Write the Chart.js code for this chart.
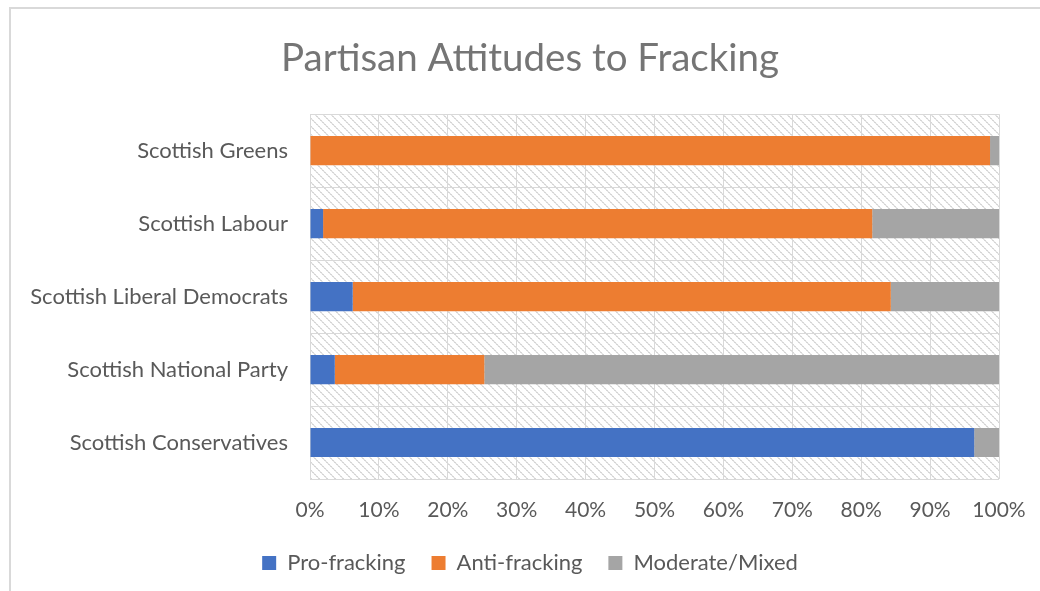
<!DOCTYPE html>
<html>
<head>
<meta charset="utf-8">
<script src="https://cdn.jsdelivr.net/npm/chart.js@4.4.0/dist/chart.umd.min.js"></script>
<style>
  html, body { margin: 0; padding: 0; background: #fff; }
  #wrap { position: relative; width: 1040px; height: 591px; }
</style>
</head>
<body>
<div id="wrap"><canvas id="chart" width="1040" height="591"></canvas></div>
<script>
// Data (shares in %)
const categories = ['Scottish Greens', 'Scottish Labour', 'Scottish Liberal Democrats', 'Scottish National Party', 'Scottish Conservatives']
const proFracking = [0, 1.9, 6.2, 3.6, 96.4]
const antiFracking = [98.7, 79.7, 78.1, 21.7, 0]
const moderateMixed = [1.3, 18.4, 15.7, 74.7, 3.6]
const xTicks = [0, 10, 20, 30, 40, 50, 60, 70, 80, 90, 100]

const textColor = '#595959'
const gridColor = '#d9d9d9'
const fontFamily = 'Lato, "Open Sans", sans-serif'

// diagonal hatch for the plot background (Excel "wide downward diagonal")
function makeHatch() {
  const c = document.createElement('canvas')
  c.width = 8
  c.height = 8
  const g = c.getContext('2d')
  g.fillStyle = '#ffffff'
  g.fillRect(0, 0, 8, 8)
  for(let i = 0; i < 8; i++) {
    g.fillStyle = i % 2 === 0 ? '#d6d6d6' : '#e6e6e6'
    g.fillRect(i, i, 1, 1)
    g.fillRect((i + 1) % 8, i, 1, 1)
  }
  return c
}

const hatchPlugin = {
  id: 'hatchBg',
  beforeDraw(chart) {
    const { ctx, chartArea } = chart
    ctx.save()
    ctx.fillStyle = ctx.createPattern(makeHatch(), 'repeat')
    ctx.fillRect(chartArea.left, chartArea.top, chartArea.right - chartArea.left, chartArea.bottom - chartArea.top)
    ctx.restore()
  }
}

const framePlugin = {
  id: 'frame',
  afterDraw(chart) {
    const ctx = chart.ctx
    ctx.save()
    ctx.strokeStyle = gridColor
    ctx.lineWidth = 2
    ctx.beginPath()
    ctx.moveTo(10, 591)
    ctx.lineTo(10, 8)
    ctx.lineTo(1040, 8)
    ctx.stroke()
    ctx.restore()
  }
}

const ctx = document.getElementById('chart').getContext('2d')
new Chart(ctx, {
  type: 'bar',
  data: {
    labels: categories,
    datasets: [
      { label: 'Pro-fracking', data: proFracking, backgroundColor: '#4472C4' },
      { label: 'Anti-fracking', data: antiFracking, backgroundColor: '#ED7D31' },
      { label: 'Moderate/Mixed', data: moderateMixed, backgroundColor: '#A5A5A5' }
    ]
  },
  options: {
    indexAxis: 'y',
    responsive: false,
    animation: false,
    categoryPercentage: 1,
    barPercentage: 0.4,
    layout: { padding: { left: 20, right: 0, top: 0, bottom: 7 } },
    plugins: {
      title: {
        display: true,
        text: 'Partisan Attitudes to Fracking',
        color: '#757575',
        font: { family: fontFamily, size: 38.5, weight: 'normal' },
        padding: { top: 35, bottom: 33 }
      },
      legend: {
        position: 'bottom',
        labels: {
          color: textColor,
          font: { family: fontFamily, size: 22 },
          boxWidth: 14,
          boxHeight: 14,
          padding: 26
        }
      },
      tooltip: { enabled: false }
    },
    scales: {
      x: {
        stacked: true,
        min: 0,
        max: 100,
        afterBuildTicks(axis) {
          axis.ticks = xTicks.map(v => ({ value: v }))
        },
        afterFit(axis) {
          axis.height = 47
          axis.paddingLeft = 0
          axis.paddingRight = 0
        },
        ticks: {
          color: textColor,
          font: { family: fontFamily, size: 21 },
          padding: 19,
          callback: v => v + '%'
        },
        grid: { color: gridColor, lineWidth: 1, drawTicks: false },
        border: { display: false }
      },
      y: {
        stacked: true,
        afterFit(axis) { axis.width = 290 },
        ticks: {
          color: textColor,
          font: { family: fontFamily, size: 22 },
          padding: 22
        },
        grid: { color: gridColor, lineWidth: 1, drawTicks: false, offset: true },
        border: { display: false }
      },
      // empty axis on the right, only to keep the plot off the right edge
      yRight: {
        type: 'category',
        position: 'right',
        afterFit(axis) { axis.width = 41 },
        ticks: { display: false },
        grid: { display: false, drawTicks: false },
        border: { display: false }
      }
    }
  },
  plugins: [hatchPlugin, framePlugin]
})
</script>
</body>
</html>
